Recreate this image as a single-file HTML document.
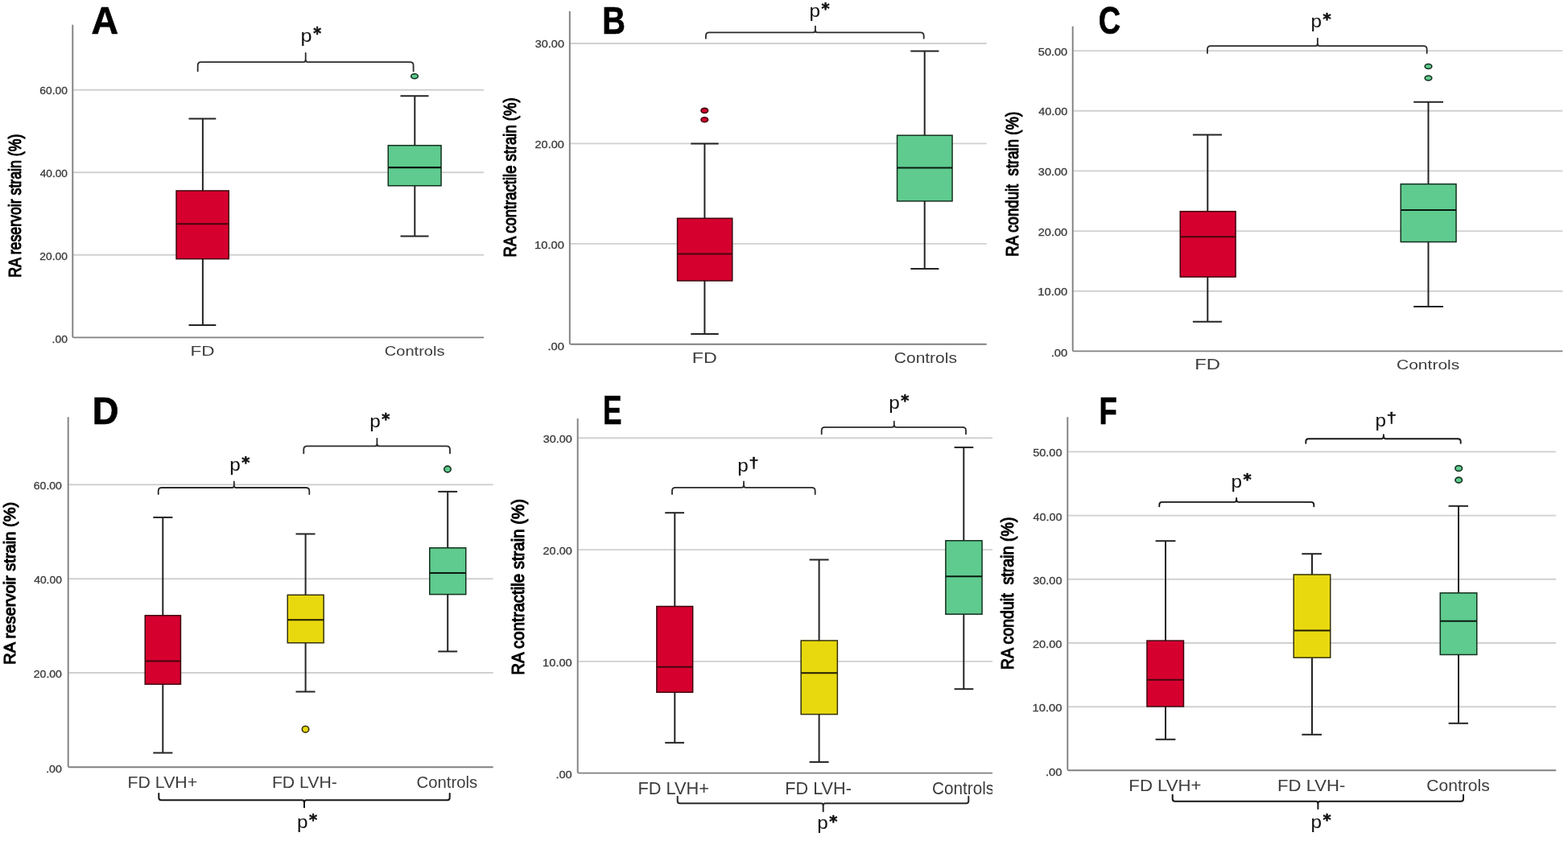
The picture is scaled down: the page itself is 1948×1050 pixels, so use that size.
<!DOCTYPE html>
<html lang="en"><head><meta charset="utf-8"><title>RA strain box plots</title>
<style>
html,body{margin:0;padding:0;background:#fff}
svg{display:block;font-family:"Liberation Sans",sans-serif}
</style></head>
<body>
<svg width="1948" height="1050" viewBox="0 0 1948 1050">
<defs><filter id="soft" x="0" y="0" width="100%" height="100%" filterUnits="userSpaceOnUse" color-interpolation-filters="sRGB"><feGaussianBlur stdDeviation="0.5"/></filter></defs>
<rect width="1948" height="1050" fill="#ffffff"/>
<g filter="url(#soft)">
<rect width="1948" height="1050" fill="#ffffff"/>
<g id="panel-A">
<line x1="90.3" y1="111.7" x2="601" y2="111.7" stroke="#d0d0d0" stroke-width="1.9" stroke-linecap="butt"/>
<line x1="90.3" y1="214.2" x2="601" y2="214.2" stroke="#d0d0d0" stroke-width="1.9" stroke-linecap="butt"/>
<line x1="90.3" y1="316.7" x2="601" y2="316.7" stroke="#d0d0d0" stroke-width="1.9" stroke-linecap="butt"/>
<path d="M90.3 30.8 L90.3 417.9 Q90.3 419.4 91.8 419.4 L601 419.4" fill="none" stroke="#808080" stroke-width="1.9"/>
<line x1="251.9" y1="147.5" x2="251.9" y2="237" stroke="#242424" stroke-width="2.0" stroke-linecap="butt"/>
<line x1="251.9" y1="321.7" x2="251.9" y2="403.9" stroke="#242424" stroke-width="2.0" stroke-linecap="butt"/>
<line x1="234.5" y1="147.5" x2="268.3" y2="147.5" stroke="#242424" stroke-width="2.0" stroke-linecap="butt"/>
<line x1="234.5" y1="403.9" x2="268.3" y2="403.9" stroke="#242424" stroke-width="2.0" stroke-linecap="butt"/>
<rect x="219.05" y="237" width="65.2" height="84.7" fill="#d6002f" stroke="#3d050d" stroke-width="1.5"/>
<line x1="219.05" y1="278.3" x2="284.25" y2="278.3" stroke="#45060e" stroke-width="1.9000000000000001" stroke-linecap="butt"/>
<line x1="515.3" y1="119.3" x2="515.3" y2="180.7" stroke="#242424" stroke-width="2.0" stroke-linecap="butt"/>
<line x1="515.3" y1="230.8" x2="515.3" y2="293.6" stroke="#242424" stroke-width="2.0" stroke-linecap="butt"/>
<line x1="497.5" y1="119.3" x2="532.5" y2="119.3" stroke="#242424" stroke-width="2.0" stroke-linecap="butt"/>
<line x1="497.5" y1="293.6" x2="532.5" y2="293.6" stroke="#242424" stroke-width="2.0" stroke-linecap="butt"/>
<rect x="482.25" y="180.7" width="65.8" height="50.1" fill="#5fcb8e" stroke="#14301f" stroke-width="1.5"/>
<line x1="482.25" y1="208.1" x2="548.05" y2="208.1" stroke="#0a1a11" stroke-width="2.1" stroke-linecap="butt"/>
<ellipse cx="515" cy="94.7" rx="4.3" ry="3.0" fill="#5fcb8e" stroke="#14301f" stroke-width="1.6"/>
<path d="M245.7 88.4 L245.7 81.3 Q245.7 77.1 249.9 77.1 L377.3 77.1 Q379.7 77.1 379.7 73.74 L379.7 66 L379.7 73.74 Q379.7 77.1 382.1 77.1 L509.4 77.1 Q513.6 77.1 513.6 81.3 L513.6 88.4" fill="none" stroke="#2a2a2a" stroke-width="1.8" stroke-linecap="round" stroke-linejoin="round"/>
<text transform="translate(49.36 117.15) scale(1.0712 1)" font-size="12.9" font-weight="400" fill="#3a3a3a" stroke="#3a3a3a" stroke-width="0.3">60.00</text>
<text transform="translate(49.78 219.95) scale(1.0581 1)" font-size="12.9" font-weight="400" fill="#3a3a3a" stroke="#3a3a3a" stroke-width="0.3">40.00</text>
<text transform="translate(49.36 322.75) scale(1.0712 1)" font-size="12.9" font-weight="400" fill="#3a3a3a" stroke="#3a3a3a" stroke-width="0.3">20.00</text>
<text transform="translate(64.53 425.65) scale(1.0810 1)" font-size="12.9" font-weight="400" fill="#3a3a3a" stroke="#3a3a3a" stroke-width="0.3">.00</text>
<text transform="translate(113.55 41.65) scale(0.9726 1)" font-size="47.83" font-weight="700" fill="#000" stroke="#000" stroke-width="0.7">A</text>
<g class="pval"><text transform="translate(373.53 52.11) scale(1.2614 1.0933)" font-size="20" font-weight="400" fill="#111">p</text><text transform="translate(389.23 48.72) scale(0.9375 1.0217)" font-family="'DejaVu Sans',sans-serif" stroke="#111" stroke-width="0.61" stroke-linejoin="round" font-size="20" font-weight="700" fill="#111">*</text></g>
<text transform="translate(236.49 441.9) scale(1.2985 1)" font-size="17.39" font-weight="400" fill="#3d3d3d">FD</text>
<text transform="translate(477.8 441.9) scale(1.1547 1)" font-size="17.39" font-weight="400" fill="#3d3d3d">Controls</text>
<text transform="translate(26.01 344.87) rotate(-90) scale(0.8211 1)" font-size="21.6" font-weight="400" fill="#000" stroke="#000" stroke-width="1.1" stroke-linejoin="round" xml:space="preserve">RA reservoir strain (%)</text>
</g>
<g id="panel-B">
<line x1="707.8" y1="54" x2="1225.7" y2="54" stroke="#d0d0d0" stroke-width="1.9" stroke-linecap="butt"/>
<line x1="707.8" y1="178.4" x2="1225.7" y2="178.4" stroke="#d0d0d0" stroke-width="1.9" stroke-linecap="butt"/>
<line x1="707.8" y1="302.9" x2="1225.7" y2="302.9" stroke="#d0d0d0" stroke-width="1.9" stroke-linecap="butt"/>
<path d="M707.8 14 L707.8 426.2 Q707.8 427.7 709.3 427.7 L1225.7 427.7" fill="none" stroke="#808080" stroke-width="1.9"/>
<line x1="875.4" y1="178.5" x2="875.4" y2="271.3" stroke="#242424" stroke-width="2.0" stroke-linecap="butt"/>
<line x1="875.4" y1="348.9" x2="875.4" y2="414.9" stroke="#242424" stroke-width="2.0" stroke-linecap="butt"/>
<line x1="858.3" y1="178.5" x2="892.7" y2="178.5" stroke="#242424" stroke-width="2.0" stroke-linecap="butt"/>
<line x1="858.3" y1="414.9" x2="892.7" y2="414.9" stroke="#242424" stroke-width="2.0" stroke-linecap="butt"/>
<rect x="841.55" y="271.3" width="68.2" height="77.6" fill="#d6002f" stroke="#3d050d" stroke-width="1.5"/>
<line x1="841.55" y1="315.5" x2="909.75" y2="315.5" stroke="#45060e" stroke-width="1.9000000000000001" stroke-linecap="butt"/>
<line x1="1148.7" y1="63.5" x2="1148.7" y2="168.2" stroke="#242424" stroke-width="2.0" stroke-linecap="butt"/>
<line x1="1148.7" y1="249.9" x2="1148.7" y2="333.9" stroke="#242424" stroke-width="2.0" stroke-linecap="butt"/>
<line x1="1131.3" y1="63.5" x2="1166.4" y2="63.5" stroke="#242424" stroke-width="2.0" stroke-linecap="butt"/>
<line x1="1131.3" y1="333.9" x2="1166.4" y2="333.9" stroke="#242424" stroke-width="2.0" stroke-linecap="butt"/>
<rect x="1114.55" y="168.2" width="68.5" height="81.7" fill="#5fcb8e" stroke="#14301f" stroke-width="1.5"/>
<line x1="1114.55" y1="208.5" x2="1183.05" y2="208.5" stroke="#0a1a11" stroke-width="2.1" stroke-linecap="butt"/>
<ellipse cx="875.3" cy="137.4" rx="4.3" ry="3.0" fill="#d6002f" stroke="#3d050d" stroke-width="1.6"/>
<ellipse cx="875.3" cy="148.8" rx="4.3" ry="3.0" fill="#d6002f" stroke="#3d050d" stroke-width="1.6"/>
<path d="M876.9 47.7 L876.9 44.6 Q876.9 40.4 881.1 40.4 L1010.5 40.4 Q1012.9 40.4 1012.9 37.04 L1012.9 32.6 L1012.9 37.04 Q1012.9 40.4 1015.3 40.4 L1143.5 40.4 Q1147.7 40.4 1147.7 44.6 L1147.7 47.7" fill="none" stroke="#2a2a2a" stroke-width="1.8" stroke-linecap="round" stroke-linejoin="round"/>
<text transform="translate(664.67 59.15) scale(1.1245 1)" font-size="12.9" font-weight="400" fill="#3a3a3a" stroke="#3a3a3a" stroke-width="0.3">30.00</text>
<text transform="translate(664.52 184.28) scale(1.1291 1)" font-size="12.9" font-weight="400" fill="#3a3a3a" stroke="#3a3a3a" stroke-width="0.3">20.00</text>
<text transform="translate(664.07 309.42) scale(1.1434 1)" font-size="12.9" font-weight="400" fill="#3a3a3a" stroke="#3a3a3a" stroke-width="0.3">10.00</text>
<text transform="translate(680.49 434.75) scale(1.1408 1)" font-size="12.9" font-weight="400" fill="#3a3a3a" stroke="#3a3a3a" stroke-width="0.3">.00</text>
<text transform="translate(748.37 41.85) scale(0.8371 1)" font-size="47.39" font-weight="700" fill="#000" stroke="#000" stroke-width="0.7">B</text>
<g class="pval"><text transform="translate(1005.5 20.78) scale(1.2159 1.1000)" font-size="20" font-weight="400" fill="#111">p</text><text transform="translate(1020.51 16.8) scale(0.9688 1.0000)" font-family="'DejaVu Sans',sans-serif" stroke="#111" stroke-width="0.61" stroke-linejoin="round" font-size="20" font-weight="700" fill="#111">*</text></g>
<text transform="translate(859.74 450.7) scale(1.3043 1)" font-size="17.83" font-weight="400" fill="#3d3d3d">FD</text>
<text transform="translate(1110.85 450.7) scale(1.1759 1)" font-size="17.83" font-weight="400" fill="#3d3d3d">Controls</text>
<text transform="translate(640.66 319.43) rotate(-90) scale(0.8267 1)" font-size="22.34" font-weight="400" fill="#000" stroke="#000" stroke-width="1.1" stroke-linejoin="round" xml:space="preserve">RA contractile strain (%)</text>
</g>
<g id="panel-C">
<line x1="1332.7" y1="63.1" x2="1941.3" y2="63.1" stroke="#d0d0d0" stroke-width="1.9" stroke-linecap="butt"/>
<line x1="1332.7" y1="137.8" x2="1941.3" y2="137.8" stroke="#d0d0d0" stroke-width="1.9" stroke-linecap="butt"/>
<line x1="1332.7" y1="212.4" x2="1941.3" y2="212.4" stroke="#d0d0d0" stroke-width="1.9" stroke-linecap="butt"/>
<line x1="1332.7" y1="287.1" x2="1941.3" y2="287.1" stroke="#d0d0d0" stroke-width="1.9" stroke-linecap="butt"/>
<line x1="1332.7" y1="361.8" x2="1941.3" y2="361.8" stroke="#d0d0d0" stroke-width="1.9" stroke-linecap="butt"/>
<path d="M1332.7 32.7 L1332.7 434.9 Q1332.7 436.4 1334.2 436.4 L1941.3 436.4" fill="none" stroke="#808080" stroke-width="1.9"/>
<line x1="1500.3" y1="167.4" x2="1500.3" y2="262.7" stroke="#242424" stroke-width="2.0" stroke-linecap="butt"/>
<line x1="1500.3" y1="344.1" x2="1500.3" y2="399.7" stroke="#242424" stroke-width="2.0" stroke-linecap="butt"/>
<line x1="1481.9" y1="167.4" x2="1518" y2="167.4" stroke="#242424" stroke-width="2.0" stroke-linecap="butt"/>
<line x1="1481.9" y1="399.7" x2="1518" y2="399.7" stroke="#242424" stroke-width="2.0" stroke-linecap="butt"/>
<rect x="1466.25" y="262.7" width="68.8" height="81.4" fill="#d6002f" stroke="#3d050d" stroke-width="1.5"/>
<line x1="1466.25" y1="294.2" x2="1535.05" y2="294.2" stroke="#45060e" stroke-width="1.9000000000000001" stroke-linecap="butt"/>
<line x1="1774.5" y1="126.7" x2="1774.5" y2="228.7" stroke="#242424" stroke-width="2.0" stroke-linecap="butt"/>
<line x1="1774.5" y1="300.6" x2="1774.5" y2="381.1" stroke="#242424" stroke-width="2.0" stroke-linecap="butt"/>
<line x1="1756.2" y1="126.7" x2="1793" y2="126.7" stroke="#242424" stroke-width="2.0" stroke-linecap="butt"/>
<line x1="1756.2" y1="381.1" x2="1793" y2="381.1" stroke="#242424" stroke-width="2.0" stroke-linecap="butt"/>
<rect x="1740.25" y="228.7" width="68.8" height="71.9" fill="#5fcb8e" stroke="#14301f" stroke-width="1.5"/>
<line x1="1740.25" y1="261" x2="1809.05" y2="261" stroke="#0a1a11" stroke-width="2.1" stroke-linecap="butt"/>
<ellipse cx="1774.5" cy="82.5" rx="4.3" ry="3.0" fill="#5fcb8e" stroke="#14301f" stroke-width="1.6"/>
<ellipse cx="1774.5" cy="97" rx="4.3" ry="3.0" fill="#5fcb8e" stroke="#14301f" stroke-width="1.6"/>
<path d="M1500 66 L1500 61.4 Q1500 57.2 1504.2 57.2 L1634.5 57.2 Q1636.9 57.2 1636.9 53.84 L1636.9 47.7 L1636.9 53.84 Q1636.9 57.2 1639.3 57.2 L1768.5 57.2 Q1772.7 57.2 1772.7 61.4 L1772.7 66" fill="none" stroke="#2a2a2a" stroke-width="1.8" stroke-linecap="round" stroke-linejoin="round"/>
<text transform="translate(1289.87 68.85) scale(1.1245 1)" font-size="12.9" font-weight="400" fill="#3a3a3a" stroke="#3a3a3a" stroke-width="0.3">50.00</text>
<text transform="translate(1290.16 143.45) scale(1.1153 1)" font-size="12.9" font-weight="400" fill="#3a3a3a" stroke="#3a3a3a" stroke-width="0.3">40.00</text>
<text transform="translate(1289.87 218.15) scale(1.1245 1)" font-size="12.9" font-weight="400" fill="#3a3a3a" stroke="#3a3a3a" stroke-width="0.3">30.00</text>
<text transform="translate(1289.72 292.85) scale(1.1291 1)" font-size="12.9" font-weight="400" fill="#3a3a3a" stroke="#3a3a3a" stroke-width="0.3">20.00</text>
<text transform="translate(1289.27 367.45) scale(1.1434 1)" font-size="12.9" font-weight="400" fill="#3a3a3a" stroke="#3a3a3a" stroke-width="0.3">10.00</text>
<text transform="translate(1305.69 442.55) scale(1.1408 1)" font-size="12.9" font-weight="400" fill="#3a3a3a" stroke="#3a3a3a" stroke-width="0.3">.00</text>
<text transform="translate(1364.63 42.35) scale(0.7780 1)" font-size="48.84" font-weight="700" fill="#000" stroke="#000" stroke-width="0.7">C</text>
<g class="pval"><text transform="translate(1628.6 33.88) scale(1.2159 1.1000)" font-size="20" font-weight="400" fill="#111">p</text><text transform="translate(1643.61 29.9) scale(0.9688 1.0000)" font-family="'DejaVu Sans',sans-serif" stroke="#111" stroke-width="0.61" stroke-linejoin="round" font-size="20" font-weight="700" fill="#111">*</text></g>
<text transform="translate(1484.29 459.1) scale(1.3591 1)" font-size="17.54" font-weight="400" fill="#3d3d3d">FD</text>
<text transform="translate(1734.95 459) scale(1.2116 1)" font-size="17.39" font-weight="400" fill="#3d3d3d">Controls</text>
<text transform="translate(1264.81 318.64) rotate(-90) scale(0.8615 1)" font-size="21.6" font-weight="400" fill="#000" stroke="#000" stroke-width="1.1" stroke-linejoin="round" xml:space="preserve">RA conduit  strain (%)</text>
</g>
<g id="panel-D">
<line x1="84.7" y1="602.3" x2="612.7" y2="602.3" stroke="#d0d0d0" stroke-width="1.9" stroke-linecap="butt"/>
<line x1="84.7" y1="719.3" x2="612.7" y2="719.3" stroke="#d0d0d0" stroke-width="1.9" stroke-linecap="butt"/>
<line x1="84.7" y1="836" x2="612.7" y2="836" stroke="#d0d0d0" stroke-width="1.9" stroke-linecap="butt"/>
<path d="M84.7 518.3 L84.7 951.8 Q84.7 953.3 86.2 953.3 L612.7 953.3" fill="none" stroke="#808080" stroke-width="1.9"/>
<line x1="202.3" y1="642.9" x2="202.3" y2="764.8" stroke="#242424" stroke-width="2.0" stroke-linecap="butt"/>
<line x1="202.3" y1="850.2" x2="202.3" y2="935.5" stroke="#242424" stroke-width="2.0" stroke-linecap="butt"/>
<line x1="190.3" y1="642.9" x2="214.4" y2="642.9" stroke="#242424" stroke-width="2.0" stroke-linecap="butt"/>
<line x1="190.3" y1="935.5" x2="214.4" y2="935.5" stroke="#242424" stroke-width="2.0" stroke-linecap="butt"/>
<rect x="180.25" y="764.8" width="44.2" height="85.4" fill="#d6002f" stroke="#3d050d" stroke-width="1.5"/>
<line x1="180.25" y1="821.5" x2="224.45" y2="821.5" stroke="#45060e" stroke-width="1.9000000000000001" stroke-linecap="butt"/>
<line x1="379.6" y1="663.5" x2="379.6" y2="739.3" stroke="#242424" stroke-width="2.0" stroke-linecap="butt"/>
<line x1="379.6" y1="798.8" x2="379.6" y2="859.5" stroke="#242424" stroke-width="2.0" stroke-linecap="butt"/>
<line x1="367.5" y1="663.5" x2="391.5" y2="663.5" stroke="#242424" stroke-width="2.0" stroke-linecap="butt"/>
<line x1="367.5" y1="859.5" x2="391.5" y2="859.5" stroke="#242424" stroke-width="2.0" stroke-linecap="butt"/>
<rect x="357.25" y="739.3" width="44.9" height="59.5" fill="#e8d90f" stroke="#35320a" stroke-width="1.5"/>
<line x1="357.25" y1="770.2" x2="402.15" y2="770.2" stroke="#1f1d04" stroke-width="2.1" stroke-linecap="butt"/>
<line x1="556.2" y1="610.9" x2="556.2" y2="680.8" stroke="#242424" stroke-width="2.0" stroke-linecap="butt"/>
<line x1="556.2" y1="738.6" x2="556.2" y2="809.5" stroke="#242424" stroke-width="2.0" stroke-linecap="butt"/>
<line x1="544.3" y1="610.9" x2="568.1" y2="610.9" stroke="#242424" stroke-width="2.0" stroke-linecap="butt"/>
<line x1="544.3" y1="809.5" x2="568.1" y2="809.5" stroke="#242424" stroke-width="2.0" stroke-linecap="butt"/>
<rect x="533.75" y="680.8" width="45" height="57.8" fill="#5fcb8e" stroke="#14301f" stroke-width="1.5"/>
<line x1="533.75" y1="712" x2="578.75" y2="712" stroke="#0a1a11" stroke-width="2.1" stroke-linecap="butt"/>
<ellipse cx="379.5" cy="906.2" rx="4.2" ry="3.9" fill="#e8d90f" stroke="#35320a" stroke-width="1.6"/>
<ellipse cx="556" cy="583" rx="4.2" ry="3.9" fill="#5fcb8e" stroke="#14301f" stroke-width="1.6"/>
<path d="M196.7 614 L196.7 610.2 Q196.7 606 200.9 606 L288.4 606 Q290.8 606 290.8 602.64 L290.8 598.4 L290.8 602.64 Q290.8 606 293.2 606 L380.1 606 Q384.3 606 384.3 610.2 L384.3 614" fill="none" stroke="#2a2a2a" stroke-width="1.8" stroke-linecap="round" stroke-linejoin="round"/>
<path d="M377.3 563.3 L377.3 558.5 Q377.3 554.3 381.5 554.3 L466 554.3 Q468.4 554.3 468.4 550.94 L468.4 544.9 L468.4 550.94 Q468.4 554.3 470.8 554.3 L554.8 554.3 Q559 554.3 559 558.5 L559 563.3" fill="none" stroke="#2a2a2a" stroke-width="1.8" stroke-linecap="round" stroke-linejoin="round"/>
<path d="M197.3 986 L197.3 991.2 Q197.3 994.2 200.3 994.2 L375.6 994.2 Q378 994.2 378 997.56 L378 1003.2 L378 997.56 Q378 994.2 380.4 994.2 L555.7 994.2 Q558.7 994.2 558.7 991.2 L558.7 986" fill="none" stroke="#161616" stroke-width="2.0" stroke-linecap="round" stroke-linejoin="round"/>
<text transform="translate(41.75 607.75) scale(1.0905 1)" font-size="12.9" font-weight="400" fill="#3a3a3a" stroke="#3a3a3a" stroke-width="0.3">60.00</text>
<text transform="translate(42.17 724.65) scale(1.0771 1)" font-size="12.9" font-weight="400" fill="#3a3a3a" stroke="#3a3a3a" stroke-width="0.3">40.00</text>
<text transform="translate(41.75 841.75) scale(1.0905 1)" font-size="12.9" font-weight="400" fill="#3a3a3a" stroke="#3a3a3a" stroke-width="0.3">20.00</text>
<text transform="translate(57.18 959.65) scale(1.1009 1)" font-size="12.9" font-weight="400" fill="#3a3a3a" stroke="#3a3a3a" stroke-width="0.3">.00</text>
<text transform="translate(114.67 526.55) scale(0.9298 1)" font-size="48.84" font-weight="700" fill="#000" stroke="#000" stroke-width="0.7">D</text>
<g class="pval"><text transform="translate(285.2 584.78) scale(1.2159 1.1000)" font-size="20" font-weight="400" fill="#111">p</text><text transform="translate(300.21 580.8) scale(0.9687 1.0000)" font-family="'DejaVu Sans',sans-serif" stroke="#111" stroke-width="0.61" stroke-linejoin="round" font-size="20" font-weight="700" fill="#111">*</text></g>
<g class="pval"><text transform="translate(459.2 531.28) scale(1.2159 1.1000)" font-size="20" font-weight="400" fill="#111">p</text><text transform="translate(474.21 527.3) scale(0.9687 1.0000)" font-family="'DejaVu Sans',sans-serif" stroke="#111" stroke-width="0.61" stroke-linejoin="round" font-size="20" font-weight="700" fill="#111">*</text></g>
<g class="pval"><text transform="translate(368.9 1028.88) scale(1.2159 1.1000)" font-size="20" font-weight="400" fill="#111">p</text><text transform="translate(383.91 1024.9) scale(0.9687 1.0000)" font-family="'DejaVu Sans',sans-serif" stroke="#111" stroke-width="0.61" stroke-linejoin="round" font-size="20" font-weight="700" fill="#111">*</text></g>
<text transform="translate(158.6 978.5) scale(1.0804 1)" font-size="19.71" font-weight="400" fill="#3d3d3d">FD LVH+</text>
<text transform="translate(337.9 978.5) scale(1.0780 1)" font-size="19.71" font-weight="400" fill="#3d3d3d">FD LVH-</text>
<text transform="translate(517.58 978.5) scale(1.0300 1)" font-size="19.71" font-weight="400" fill="#3d3d3d">Controls</text>
<text transform="translate(19.35 825.76) rotate(-90) scale(0.9586 1)" font-size="20.96" font-weight="400" fill="#000" stroke="#000" stroke-width="1.1" stroke-linejoin="round" xml:space="preserve">RA reservoir strain (%)</text>
</g>
<g id="panel-E">
<line x1="717.7" y1="544.3" x2="1233" y2="544.3" stroke="#d0d0d0" stroke-width="1.9" stroke-linecap="butt"/>
<line x1="717.7" y1="683.1" x2="1233" y2="683.1" stroke="#d0d0d0" stroke-width="1.9" stroke-linecap="butt"/>
<line x1="717.7" y1="821.9" x2="1233" y2="821.9" stroke="#d0d0d0" stroke-width="1.9" stroke-linecap="butt"/>
<path d="M717.7 520 L717.7 959.1 Q717.7 960.6 719.2 960.6 L1233 960.6" fill="none" stroke="#808080" stroke-width="1.9"/>
<line x1="838.3" y1="637.2" x2="838.3" y2="753.5" stroke="#242424" stroke-width="2.0" stroke-linecap="butt"/>
<line x1="838.3" y1="860.2" x2="838.3" y2="922.9" stroke="#242424" stroke-width="2.0" stroke-linecap="butt"/>
<line x1="826.2" y1="637.2" x2="850" y2="637.2" stroke="#242424" stroke-width="2.0" stroke-linecap="butt"/>
<line x1="826.2" y1="922.9" x2="850" y2="922.9" stroke="#242424" stroke-width="2.0" stroke-linecap="butt"/>
<rect x="815.85" y="753.5" width="44.8" height="106.7" fill="#d6002f" stroke="#3d050d" stroke-width="1.5"/>
<line x1="815.85" y1="828.8" x2="860.65" y2="828.8" stroke="#45060e" stroke-width="1.9000000000000001" stroke-linecap="butt"/>
<line x1="1017.6" y1="695.5" x2="1017.6" y2="796" stroke="#242424" stroke-width="2.0" stroke-linecap="butt"/>
<line x1="1017.6" y1="887.6" x2="1017.6" y2="946.9" stroke="#242424" stroke-width="2.0" stroke-linecap="butt"/>
<line x1="1005.6" y1="695.5" x2="1029.6" y2="695.5" stroke="#242424" stroke-width="2.0" stroke-linecap="butt"/>
<line x1="1005.6" y1="946.9" x2="1029.6" y2="946.9" stroke="#242424" stroke-width="2.0" stroke-linecap="butt"/>
<rect x="995.15" y="796" width="45.2" height="91.6" fill="#e8d90f" stroke="#35320a" stroke-width="1.5"/>
<line x1="995.15" y1="836.2" x2="1040.35" y2="836.2" stroke="#1f1d04" stroke-width="2.1" stroke-linecap="butt"/>
<line x1="1197.3" y1="555.9" x2="1197.3" y2="671.8" stroke="#242424" stroke-width="2.0" stroke-linecap="butt"/>
<line x1="1197.3" y1="763.2" x2="1197.3" y2="856.2" stroke="#242424" stroke-width="2.0" stroke-linecap="butt"/>
<line x1="1185.6" y1="555.9" x2="1209.3" y2="555.9" stroke="#242424" stroke-width="2.0" stroke-linecap="butt"/>
<line x1="1185.6" y1="856.2" x2="1209.3" y2="856.2" stroke="#242424" stroke-width="2.0" stroke-linecap="butt"/>
<rect x="1174.85" y="671.8" width="45.2" height="91.4" fill="#5fcb8e" stroke="#14301f" stroke-width="1.5"/>
<line x1="1174.85" y1="716.3" x2="1220.05" y2="716.3" stroke="#0a1a11" stroke-width="2.1" stroke-linecap="butt"/>
<path d="M835 614 L835 610 Q835 605.8 839.2 605.8 L921.6 605.8 Q924 605.8 924 602.44 L924 598.3 L924 602.44 Q924 605.8 926.4 605.8 L1008.5 605.8 Q1012.7 605.8 1012.7 610 L1012.7 614" fill="none" stroke="#2a2a2a" stroke-width="1.8" stroke-linecap="round" stroke-linejoin="round"/>
<path d="M1020.7 539.3 L1020.7 535.1 Q1020.7 530.9 1024.9 530.9 L1108.4 530.9 Q1110.8 530.9 1110.8 527.54 L1110.8 523.7 L1110.8 527.54 Q1110.8 530.9 1113.2 530.9 L1195.8 530.9 Q1200 530.9 1200 535.1 L1200 539.3" fill="none" stroke="#2a2a2a" stroke-width="1.8" stroke-linecap="round" stroke-linejoin="round"/>
<path d="M841.7 989.7 L841.7 995.3 Q841.7 998.3 844.7 998.3 L1020.3 998.3 Q1022.7 998.3 1022.7 1001.66 L1022.7 1008.3 L1022.7 1001.66 Q1022.7 998.3 1025.1 998.3 L1200.3 998.3 Q1203.3 998.3 1203.3 995.3 L1203.3 989.7" fill="none" stroke="#2a2a2a" stroke-width="2.0" stroke-linecap="round" stroke-linejoin="round"/>
<text transform="translate(674.67 549.85) scale(1.1181 1)" font-size="12.9" font-weight="400" fill="#3a3a3a" stroke="#3a3a3a" stroke-width="0.3">30.00</text>
<text transform="translate(674.53 688.85) scale(1.1227 1)" font-size="12.9" font-weight="400" fill="#3a3a3a" stroke="#3a3a3a" stroke-width="0.3">20.00</text>
<text transform="translate(674.08 827.95) scale(1.1369 1)" font-size="12.9" font-weight="400" fill="#3a3a3a" stroke="#3a3a3a" stroke-width="0.3">10.00</text>
<text transform="translate(690.4 966.95) scale(1.1341 1)" font-size="12.9" font-weight="400" fill="#3a3a3a" stroke="#3a3a3a" stroke-width="0.3">.00</text>
<text transform="translate(749.09 526.65) scale(0.7097 1)" font-size="49.57" font-weight="700" fill="#000" stroke="#000" stroke-width="0.7">E</text>
<g class="pval"><text transform="translate(916.3 586.18) scale(1.2159 1.1000)" font-size="20" font-weight="400" fill="#111">p</text><text transform="translate(930.48 581.45) scale(1.0833 0.8734)" stroke="#111" stroke-width="0.61" stroke-linejoin="round" font-size="20" font-weight="400" fill="#111">†</text></g>
<g class="pval"><text transform="translate(1104.2 507.88) scale(1.2159 1.1000)" font-size="20" font-weight="400" fill="#111">p</text><text transform="translate(1119.21 503.9) scale(0.9688 1.0000)" font-family="'DejaVu Sans',sans-serif" stroke="#111" stroke-width="0.61" stroke-linejoin="round" font-size="20" font-weight="700" fill="#111">*</text></g>
<g class="pval"><text transform="translate(1015.3 1030.48) scale(1.2159 1.1000)" font-size="20" font-weight="400" fill="#111">p</text><text transform="translate(1030.31 1026.5) scale(0.9688 1.0000)" font-family="'DejaVu Sans',sans-serif" stroke="#111" stroke-width="0.61" stroke-linejoin="round" font-size="20" font-weight="700" fill="#111">*</text></g>
<text transform="translate(792.56 987) scale(1.0073 1)" font-size="21.59" font-weight="400" fill="#3d3d3d">FD LVH+</text>
<text transform="translate(975.27 987) scale(1.0040 1)" font-size="21.59" font-weight="400" fill="#3d3d3d">FD LVH-</text>
<clipPath id="clipE"><rect x="1100" y="962" width="133.1" height="40"/></clipPath><g clip-path="url(#clipE)">
<text transform="translate(1158.06 987) scale(0.9593 1)" font-size="21.59" font-weight="400" fill="#3d3d3d">Controls</text>
</g>
<text transform="translate(651.37 838.78) rotate(-90) scale(0.9353 1)" font-size="21.81" font-weight="400" fill="#000" stroke="#000" stroke-width="1.1" stroke-linejoin="round" xml:space="preserve">RA contractile strain (%)</text>
</g>
<g id="panel-F">
<line x1="1326.3" y1="561.4" x2="1933.2" y2="561.4" stroke="#d0d0d0" stroke-width="1.9" stroke-linecap="butt"/>
<line x1="1326.3" y1="640.6" x2="1933.2" y2="640.6" stroke="#d0d0d0" stroke-width="1.9" stroke-linecap="butt"/>
<line x1="1326.3" y1="719.8" x2="1933.2" y2="719.8" stroke="#d0d0d0" stroke-width="1.9" stroke-linecap="butt"/>
<line x1="1326.3" y1="799" x2="1933.2" y2="799" stroke="#d0d0d0" stroke-width="1.9" stroke-linecap="butt"/>
<line x1="1326.3" y1="878.2" x2="1933.2" y2="878.2" stroke="#d0d0d0" stroke-width="1.9" stroke-linecap="butt"/>
<path d="M1326.3 518.3 L1326.3 955.8 Q1326.3 957.3 1327.8 957.3 L1933.2 957.3" fill="none" stroke="#808080" stroke-width="1.9"/>
<line x1="1448" y1="672.2" x2="1448" y2="796.1" stroke="#242424" stroke-width="2.0" stroke-linecap="butt"/>
<line x1="1448" y1="877.9" x2="1448" y2="918.8" stroke="#242424" stroke-width="2.0" stroke-linecap="butt"/>
<line x1="1435.6" y1="672.2" x2="1460.4" y2="672.2" stroke="#242424" stroke-width="2.0" stroke-linecap="butt"/>
<line x1="1435.6" y1="918.8" x2="1460.4" y2="918.8" stroke="#242424" stroke-width="2.0" stroke-linecap="butt"/>
<rect x="1424.95" y="796.1" width="45.5" height="81.8" fill="#d6002f" stroke="#3d050d" stroke-width="1.5"/>
<line x1="1424.95" y1="844.8" x2="1470.45" y2="844.8" stroke="#45060e" stroke-width="1.9000000000000001" stroke-linecap="butt"/>
<line x1="1630" y1="688.2" x2="1630" y2="714" stroke="#242424" stroke-width="2.0" stroke-linecap="butt"/>
<line x1="1630" y1="817.2" x2="1630" y2="912.8" stroke="#242424" stroke-width="2.0" stroke-linecap="butt"/>
<line x1="1617.3" y1="688.2" x2="1642" y2="688.2" stroke="#242424" stroke-width="2.0" stroke-linecap="butt"/>
<line x1="1617.3" y1="912.8" x2="1642" y2="912.8" stroke="#242424" stroke-width="2.0" stroke-linecap="butt"/>
<rect x="1607.25" y="714" width="45.5" height="103.2" fill="#e8d90f" stroke="#35320a" stroke-width="1.5"/>
<line x1="1607.25" y1="783.5" x2="1652.75" y2="783.5" stroke="#1f1d04" stroke-width="2.1" stroke-linecap="butt"/>
<line x1="1812" y1="628.8" x2="1812" y2="736.8" stroke="#242424" stroke-width="2.0" stroke-linecap="butt"/>
<line x1="1812" y1="813.5" x2="1812" y2="898.8" stroke="#242424" stroke-width="2.0" stroke-linecap="butt"/>
<line x1="1799.6" y1="628.8" x2="1824" y2="628.8" stroke="#242424" stroke-width="2.0" stroke-linecap="butt"/>
<line x1="1799.6" y1="898.8" x2="1824" y2="898.8" stroke="#242424" stroke-width="2.0" stroke-linecap="butt"/>
<rect x="1789.25" y="736.8" width="45.5" height="76.7" fill="#5fcb8e" stroke="#14301f" stroke-width="1.5"/>
<line x1="1789.25" y1="771.8" x2="1834.75" y2="771.8" stroke="#0a1a11" stroke-width="2.1" stroke-linecap="butt"/>
<ellipse cx="1812.2" cy="581.9" rx="4.3" ry="3.4" fill="#5fcb8e" stroke="#14301f" stroke-width="1.6"/>
<ellipse cx="1812.2" cy="596.5" rx="4.3" ry="3.4" fill="#5fcb8e" stroke="#14301f" stroke-width="1.6"/>
<path d="M1440.3 629.3 L1440.3 627.4 Q1440.3 623.9 1443.8 623.9 L1533.7 623.9 Q1536.1 623.9 1536.1 620.54 L1536.1 619 L1536.1 620.54 Q1536.1 623.9 1538.5 623.9 L1628.8 623.9 Q1632.3 623.9 1632.3 627.4 L1632.3 629.3" fill="none" stroke="#161616" stroke-width="1.9" stroke-linecap="round" stroke-linejoin="round"/>
<path d="M1622.3 550.7 L1622.3 548.7 Q1622.3 545.2 1625.8 545.2 L1716.5 545.2 Q1718.9 545.2 1718.9 541.84 L1718.9 540.3 L1718.9 541.84 Q1718.9 545.2 1721.3 545.2 L1811.2 545.2 Q1814.7 545.2 1814.7 548.7 L1814.7 550.7" fill="none" stroke="#161616" stroke-width="1.9" stroke-linecap="round" stroke-linejoin="round"/>
<path d="M1456.7 987.7 L1456.7 992.8 Q1456.7 995.8 1459.7 995.8 L1635 995.8 Q1637.4 995.8 1637.4 999.16 L1637.4 1005 L1637.4 999.16 Q1637.4 995.8 1639.8 995.8 L1815 995.8 Q1818 995.8 1818 992.8 L1818 987.7" fill="none" stroke="#161616" stroke-width="2.0" stroke-linecap="round" stroke-linejoin="round"/>
<text transform="translate(1283.17 567.25) scale(1.1245 1)" font-size="12.9" font-weight="400" fill="#3a3a3a" stroke="#3a3a3a" stroke-width="0.3">50.00</text>
<text transform="translate(1283.46 646.55) scale(1.1153 1)" font-size="12.9" font-weight="400" fill="#3a3a3a" stroke="#3a3a3a" stroke-width="0.3">40.00</text>
<text transform="translate(1283.17 725.75) scale(1.1245 1)" font-size="12.9" font-weight="400" fill="#3a3a3a" stroke="#3a3a3a" stroke-width="0.3">30.00</text>
<text transform="translate(1283.02 805.05) scale(1.1291 1)" font-size="12.9" font-weight="400" fill="#3a3a3a" stroke="#3a3a3a" stroke-width="0.3">20.00</text>
<text transform="translate(1282.57 884.25) scale(1.1434 1)" font-size="12.9" font-weight="400" fill="#3a3a3a" stroke="#3a3a3a" stroke-width="0.3">10.00</text>
<text transform="translate(1298.99 963.55) scale(1.1408 1)" font-size="12.9" font-weight="400" fill="#3a3a3a" stroke="#3a3a3a" stroke-width="0.3">.00</text>
<text transform="translate(1365.59 527.05) scale(0.7607 1)" font-size="48.12" font-weight="700" fill="#000" stroke="#000" stroke-width="0.7">F</text>
<g class="pval"><text transform="translate(1529.5 606.28) scale(1.2159 1.1000)" font-size="20" font-weight="400" fill="#111">p</text><text transform="translate(1544.51 602.3) scale(0.9688 1.0000)" font-family="'DejaVu Sans',sans-serif" stroke="#111" stroke-width="0.61" stroke-linejoin="round" font-size="20" font-weight="700" fill="#111">*</text></g>
<g class="pval"><text transform="translate(1708.6 529.78) scale(1.2159 1.1000)" font-size="20" font-weight="400" fill="#111">p</text><text transform="translate(1722.78 525.05) scale(1.0833 0.8734)" stroke="#111" stroke-width="0.61" stroke-linejoin="round" font-size="20" font-weight="400" fill="#111">†</text></g>
<g class="pval"><text transform="translate(1628.6 1028.88) scale(1.2159 1.1000)" font-size="20" font-weight="400" fill="#111">p</text><text transform="translate(1643.61 1024.9) scale(0.9688 1.0000)" font-family="'DejaVu Sans',sans-serif" stroke="#111" stroke-width="0.61" stroke-linejoin="round" font-size="20" font-weight="700" fill="#111">*</text></g>
<text transform="translate(1402.33 982.9) scale(1.0933 1)" font-size="20.29" font-weight="400" fill="#3d3d3d">FD LVH+</text>
<text transform="translate(1587.03 982.9) scale(1.0899 1)" font-size="20.29" font-weight="400" fill="#3d3d3d">FD LVH-</text>
<text transform="translate(1772.25 982.9) scale(1.0385 1)" font-size="20.29" font-weight="400" fill="#3d3d3d">Controls</text>
<text transform="translate(1258.73 832.22) rotate(-90) scale(0.8915 1)" font-size="22.02" font-weight="400" fill="#000" stroke="#000" stroke-width="1.1" stroke-linejoin="round" xml:space="preserve">RA conduit  strain (%)</text>
</g>
</g>
</svg>
</body></html>
